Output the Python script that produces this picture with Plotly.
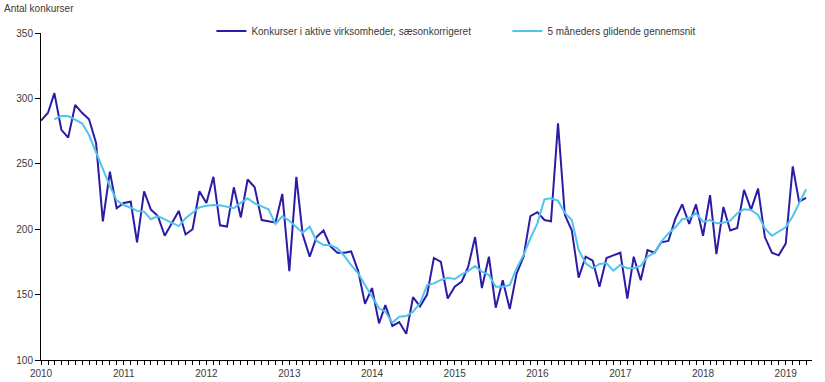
import plotly.graph_objects as go
import pandas as pd

months = pd.date_range("2010-01-01", "2019-04-01", freq="MS")

konkurser = [
    283, 289, 304, 276, 270, 295, 289, 284, 266, 206, 244, 216,   # 2010
    220, 221, 190, 229, 215, 210, 195, 205, 214, 196, 200, 229,   # 2011
    220, 240, 203, 202, 232, 209, 238, 232, 207, 206, 205, 227,   # 2012
    168, 240, 196, 179, 194, 199, 187, 182, 182, 183, 168, 143,   # 2013
    155, 128, 142, 126, 129, 120, 148, 141, 150, 178, 175, 147,   # 2014
    156, 160, 171, 194, 155, 179, 140, 161, 139, 166, 179, 210,   # 2015
    213, 207, 206, 281, 211, 199, 163, 179, 176, 156, 178, 180,   # 2016
    182, 147, 179, 161, 184, 182, 190, 191, 208, 219, 204, 219,   # 2017
    195, 226, 181, 217, 199, 201, 230, 215, 231, 194, 182, 180,   # 2018
    189, 248, 221, 224,                                           # 2019
]

glidende = [
    None, None, 284, 286.5, 286.5, 284, 281, 272, 259, 246.5, 233, 222,
    218.5, 216.4, 214, 213.4, 207.6, 210, 207.6, 205, 202.4, 208.3, 212.6, 216.7,
    218, 218.5, 218.3, 217.2, 216, 220.3, 223.6, 219.8, 217.2, 215.2, 204, 209.9,
    206.5, 201.9, 197.3, 201.9, 191.2, 187.9, 187.9, 185.3, 179.5, 172.6, 166.3, 157.3,
    148.4, 139.5, 136.9, 128.5, 133.1, 133.6, 136.9, 143.3, 157.3, 158.6, 161.2, 162.9,
    161.9, 165.5, 168, 171.9, 167.5, 165, 156, 156, 157.3, 170.1, 180.3, 193,
    204.5, 222.8, 223.6, 221.8, 212.5, 207, 184.1, 173.9, 170.1, 173.4, 173.9, 168.3,
    172.6, 170.1, 170.1, 171.9, 179, 182, 190.5, 196.8, 201.4, 207.6, 208.5, 212.3,
    205.7, 207, 204.5, 205, 206.5, 212.1, 215.2, 214.7, 210.9, 200.6, 195, 198.1,
    201.4, 209.9, 219.8, 230.5,
]

y_ticks = [100, 150, 200, 250, 300, 350]

FONT = "Liberation Sans, Arial, sans-serif"
TXT = "#3a3a3a"

fig = go.Figure()
fig.add_trace(go.Scatter(
    x=months, y=konkurser, mode="lines",
    name="Konkurser i aktive virksomheder, sæsonkorrigeret",
    line=dict(color="#2b1ca6", width=2),
))
fig.add_trace(go.Scatter(
    x=months, y=glidende, mode="lines",
    name="5 måneders glidende gennemsnit",
    line=dict(color="#52c3ec", width=2),
))

fig.update_layout(
    width=825, height=382,
    margin=dict(l=41, r=13, t=33, b=22, autoexpand=False),
    paper_bgcolor="white", plot_bgcolor="white",
    font=dict(family=FONT, size=10, color=TXT),
    showlegend=True,
    legend=dict(
        orientation="h", x=0.221, xanchor="left", y=1.006, yanchor="middle",
        font=dict(size=10, color=TXT), bgcolor="rgba(0,0,0,0)",
        entrywidth=251, itemwidth=30,
    ),
    xaxis=dict(
        type="date",
        range=["2010-01-01", "2019-04-27"],
        showgrid=False, zeroline=False,
        showline=True, linecolor="black", linewidth=1,
        tick0="2010-01-01", dtick="M12", tickformat="%Y",
        ticks="outside", ticklen=4, tickcolor="black",
        tickfont=dict(size=10, color=TXT),
        minor=dict(dtick="M1", ticks="outside", ticklen=4, tickcolor="black", showgrid=False),
    ),
    yaxis=dict(
        range=[100, 350], tickvals=y_ticks,
        showgrid=False, zeroline=False,
        showline=True, linecolor="black", linewidth=1,
        ticks="outside", ticklen=5, tickcolor="black",
        tickfont=dict(size=10, color=TXT),
    ),
    annotations=[dict(
        text="Antal konkurser", xref="paper", yref="paper",
        x=-39 / 771, y=1 + 25 / 327, xanchor="left", yanchor="middle",
        showarrow=False, font=dict(size=10, color=TXT),
    )],
)

fig.write_html("out.html", config={"displayModeBar": False},
               post_script="document.body.style.margin='0';")
